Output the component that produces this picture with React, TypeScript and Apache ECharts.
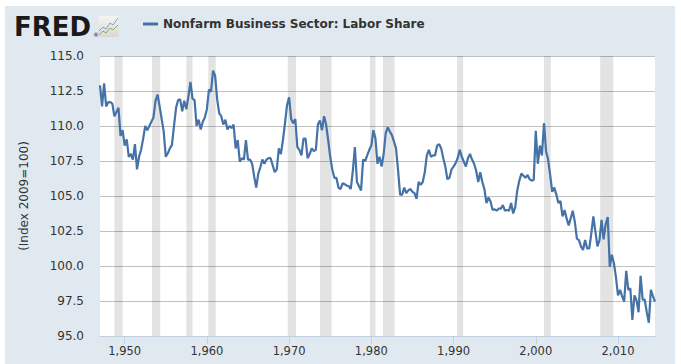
import React, { useEffect, useRef } from 'react';
import * as echarts from 'echarts';

const startYear = 1947; // first quarter of the series, quarterly data
const seriesName = 'Nonfarm Business Sector: Labor Share';

const labor1940s = [112.9, 111.4, 113.05, 111.4, 111.7, 111.7, 111.6, 110.7, 111.0, 111.3, 109.3, 109.7];
const labor1950s = [
  108.6, 109.05, 107.8, 108.0, 107.6, 108.7, 106.9, 107.8, 108.3, 109.1, 110.0, 109.7,
  110.0, 110.3, 110.6, 111.8, 112.25, 111.4, 110.5, 109.6, 107.8, 108.05, 108.4, 108.65,
  110.0, 111.3, 111.85, 111.9, 111.05, 111.8, 111.2, 112.1, 113.15, 111.95, 111.85, 110.0,
  110.45, 109.75, 110.3, 110.6,
];
const labor1960s = [
  111.2, 112.6, 112.45, 113.95, 113.6, 111.9, 110.9, 110.7, 110.1, 110.45, 109.75, 110.0,
  109.85, 110.1, 108.4, 109.0, 107.45, 107.7, 107.6, 109.0, 107.6, 107.6, 107.3, 106.4,
  105.6, 106.6, 107.05, 107.6, 107.3, 107.6, 107.7, 107.7, 107.2, 106.7, 106.9, 108.4,
  108.0, 109.0, 110.2, 111.5,
];
const labor1970s = [
  112.05, 110.5, 110.2, 110.5, 108.5, 108.3, 107.9, 109.1, 109.1, 107.7, 108.0, 108.4,
  108.2, 108.3, 110.1, 110.4, 109.7, 110.7, 110.1, 109.0, 107.8, 106.9, 106.3, 106.3,
  105.6, 105.5, 105.9, 105.85, 105.75, 105.7, 105.5, 106.8, 108.5, 106.0, 105.7, 105.4,
  107.6, 107.5, 107.9, 108.3,
];
const labor1980s = [
  108.6, 109.7, 109.1, 107.3, 107.8, 107.1, 108.0, 109.5, 109.9, 109.6, 109.35, 108.9,
  108.4, 106.85, 105.1, 105.1, 105.6, 105.2, 105.4, 105.5, 105.3, 105.2, 104.8, 106.0,
  105.8, 106.0, 106.7, 107.9, 108.3, 107.8, 107.9, 107.9, 108.6, 108.7, 108.4, 107.7,
  107.1, 106.2, 106.3, 106.9,
];
const labor1990s = [
  107.1, 107.35, 107.7, 108.3, 107.8, 107.45, 107.1, 107.7, 108.0, 107.6, 107.3, 106.8,
  106.0, 106.7, 106.0, 105.5, 104.5, 104.9, 104.6, 104.0, 104.05, 103.95, 104.1, 104.1,
  104.35, 103.95, 104.0, 103.95, 104.5, 103.75, 104.2, 105.4, 106.1, 106.6, 106.45, 106.3,
  106.5, 106.2, 106.1, 106.15,
];
const labor2000s = [
  109.65, 107.3, 108.6, 107.9, 110.2, 108.2, 107.6, 106.5, 105.3, 105.6, 105.1, 104.5,
  104.65, 103.55, 104.0, 103.4, 102.9, 103.4, 103.95, 103.15, 101.95, 101.85, 101.4, 101.15,
  101.85, 101.25, 101.25, 102.3, 103.55, 102.45, 101.4, 101.85, 103.3, 101.9, 103.0, 103.5,
  99.95, 100.8, 100.2, 99.2,
];
const labor2010s = [
  97.9, 98.3, 97.85, 97.45, 99.65, 98.3, 98.4, 96.15, 97.9, 97.55, 96.7, 99.3,
  97.6, 97.6, 96.7, 95.95, 98.3, 97.85, 97.45,
];

const recessions: [number, number][] = [
  [1948.75, 1949.75], [1953.33, 1954.33], [1957.5, 1958.25], [1960.17, 1961.08],
  [1969.83, 1970.83], [1973.75, 1975.17], [1979.83, 1980.5], [1981.42, 1982.83],
  [1990.42, 1991.17], [2001.0, 2001.83], [2007.83, 2009.42],
];

const yearTicks = [1950, 1960, 1970, 1980, 1990, 2000, 2010];
const xMin = 1947;
const xMax = 2014.5;
const yMin = 95;
const yMax = 115;
const yStep = 2.5;

const FONT = 'DejaVu Sans, Verdana, sans-serif';

export default function App() {
  const ref = useRef<HTMLDivElement>(null);
  useEffect(() => {
    const chart = echarts.init(ref.current!, null, { renderer: 'svg' });
    const values = [
      ...labor1940s, ...labor1950s, ...labor1960s, ...labor1970s,
      ...labor1980s, ...labor1990s, ...labor2000s, ...labor2010s,
    ];
    const data = values.map((v, i) => [startYear + i / 4, v]);
    chart.setOption({
      animation: false,
      backgroundColor: '#e1e9f0',
      textStyle: { fontFamily: FONT },
      grid: {
        left: 95, right: 20, top: 50, bottom: 28,
        show: true, backgroundColor: '#ffffff', borderWidth: 0,
      },
      legend: {
        left: 138, top: 12, padding: 0, icon: 'rect', itemWidth: 15, itemHeight: 3, selectedMode: false,
        textStyle: { fontWeight: 'bold', color: '#333333', fontSize: 12, fontFamily: FONT },
        data: [seriesName],
      },
      graphic: [
        {
          type: 'text', left: 9, top: 8,
          style: { text: 'FRED', font: 'bold 26px DejaVu Sans', fill: '#1a1a1a' },
        },
        {
          type: 'text', left: 88, top: 25,
          style: { text: '®', font: '6px DejaVu Sans', fill: '#1a1a1a' },
        },
        {
          type: 'rect', shape: { x: 93, y: 10, width: 21, height: 21, r: 2 },
          style: {
            fill: new echarts.graphic.LinearGradient(0, 0, 0, 1, [
              { offset: 0, color: '#f4f4f4' }, { offset: 1, color: '#d8d8d8' },
            ]),
          },
        },
        {
          type: 'polyline',
          shape: { points: [[94, 25], [98, 21], [101, 23], [105, 17], [108, 19], [113, 12]] },
          style: { stroke: '#7aa3cf', lineWidth: 1, fill: 'none' },
        },
        {
          type: 'polyline',
          shape: { points: [[94, 29], [98, 25], [101, 27], [105, 22], [108, 24], [113, 19]] },
          style: { stroke: '#8cb04c', lineWidth: 1, fill: 'none' },
        },
      ],
      xAxis: {
        type: 'value', min: xMin, max: xMax,
        splitLine: { show: false },
        axisLine: { lineStyle: { color: '#c0d0e0', width: 1 } },
        axisTick: { customValues: yearTicks, length: 8, lineStyle: { color: '#c0d0e0' } },
        axisLabel: {
          customValues: yearTicks, color: '#333333', fontSize: 11.5, margin: 9, fontFamily: FONT,
        },
      },
      yAxis: {
        type: 'value', min: yMin, max: yMax, interval: yStep,
        axisLine: { show: false }, axisTick: { show: false },
        splitLine: { lineStyle: { color: '#c0c0c0', width: 1 } },
        axisLabel: {
          formatter: (v: number) => v.toFixed(1), color: '#333333', fontSize: 12,
          margin: 16, fontFamily: FONT,
        },
        name: '(Index 2009=100)', nameLocation: 'middle', nameGap: 70,
        nameTextStyle: { color: '#333333', fontSize: 12, fontFamily: FONT },
      },
      series: [
        {
          name: seriesName, type: 'line', data, showSymbol: false, symbol: 'none',
          lineStyle: { color: '#4572a7', width: 2.2 }, itemStyle: { color: '#4572a7' },
          markArea: {
            silent: true,
            itemStyle: { color: 'rgba(0,0,0,0.11)' },
            data: recessions.map(([s, e]) => [{ xAxis: s }, { xAxis: e }]),
          },
        },
      ],
    });
    return () => chart.dispose();
  }, []);
  return (
    <div style={{ position: 'fixed', left: 0, top: 0, width: 681, height: 364, background: '#ffffff', overflow: 'hidden' }}>
      <div ref={ref} style={{ position: 'absolute', left: 5, top: 6, width: 670, height: 358 }} />
    </div>
  );
}
